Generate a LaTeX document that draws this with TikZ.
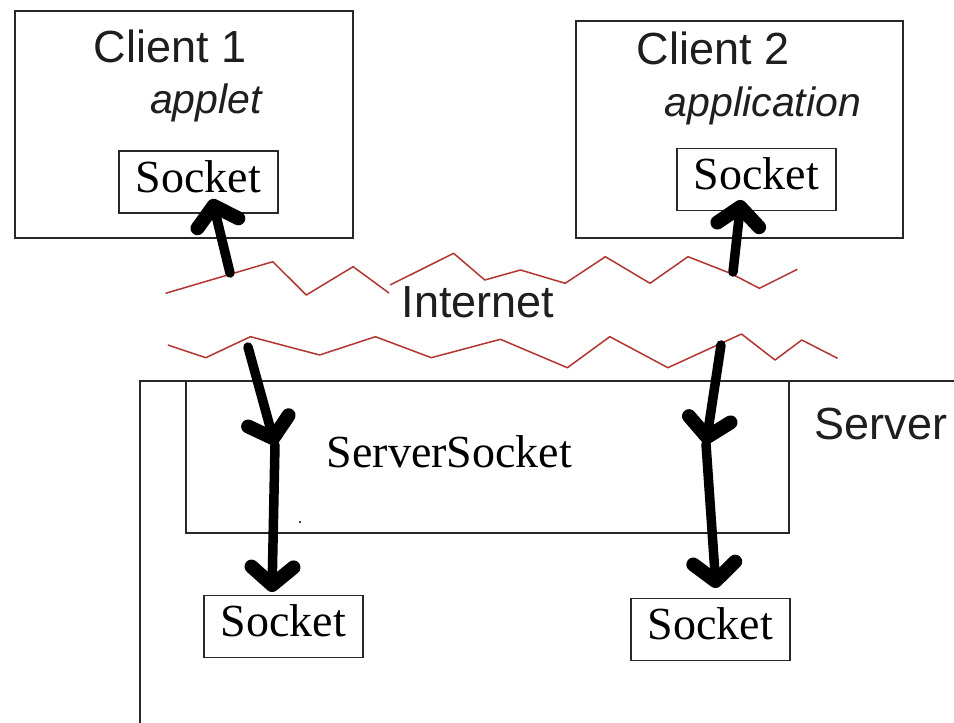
\documentclass[tikz,border=0pt]{standalone}
\usepackage{fontspec}
\setmainfont{Liberation Serif}
\newfontfamily\labelsans{Liberation Sans}
\usetikzlibrary{arrows.meta}

\definecolor{wire}{RGB}{178,54,48}
\definecolor{frame}{RGB}{40,40,40}
\definecolor{labelgray}{RGB}{30,30,30}

\tikzset{
  frameline/.style={draw=frame, line width=1.6pt},
  hostbox/.style={frameline, rectangle, inner sep=0pt},
  sockbox/.style={frameline, rectangle, inner sep=0pt, minimum width=159pt, minimum height=62pt,
                  font=\fontsize{46pt}{46pt}\selectfont, text height=28pt, text depth=8pt},
  sanslabel/.style={anchor=base, inner sep=0pt, text=labelgray, font=\labelsans\fontsize{45pt}{45pt}\selectfont},
  italabel/.style={anchor=base, inner sep=0pt, text=labelgray, font=\labelsans\itshape\fontsize{41pt}{41pt}\selectfont},
  seriflabel/.style={anchor=base, inner sep=0pt, font=\fontsize{46pt}{46pt}\selectfont},
  netline/.style={draw=wire, line width=1.5pt, line join=round},
  flow/.style={line width=9.5pt, line cap=round, line join=round,
               -{Straight Barb[length=18pt, width=42pt, line width'=14pt, line cap=round, line join=round]}},
}

\begin{document}
\begin{tikzpicture}[x=1pt, y=-1pt]
  \useasboundingbox[fill=white] (0,0) rectangle (954,723);

  % client hosts
  \node[hostbox, minimum width=338pt, minimum height=227pt] (c1) at (184,124.5) {};
  \node[hostbox, minimum width=327pt, minimum height=217pt] (c2) at (739.5,129.5) {};
  \node[sanslabel] (c1name) at (170,62) {Client 1};
  \node[italabel]  (c1kind) at (206,113) {applet};
  \node[sanslabel] (c2name) at (713,64) {Client 2};
  \node[italabel]  (c2kind) at (763,116) {application};
  \node[sockbox] (s1) at (198.5,182) {Socket};
  \node[sockbox] (s2) at (756.5,179.5) {Socket};

  % server host: only its top and left edges fall inside the frame
  \draw[frameline] (140,723) -- (140,381) -- (954,381);
  \node[sanslabel] (srvname) at (881,439) {Server};
  \draw[frameline] (186,381) rectangle (789,533);
  \node[seriflabel] (ssname) at (449.5,467) {ServerSocket};
  \fill[black] (300,522) circle (1.2pt);
  \node[sockbox] (s3) at (283.5,626.5) {Socket};
  \node[sockbox] (s4) at (710.5,629.5) {Socket};

  % the internet, bounded by two jagged lines
  \draw[netline] (165.6,293.3) -- (272.8,261.7) -- (306.3,295) -- (353.1,266.7) -- (389,293);
  \draw[netline] (390,285) -- (453.6,253.3) -- (484.8,280) -- (520.5,270) -- (565.2,283.3) -- (605.4,256.7)
    -- (650,283.3) -- (688,256.7) -- (730.4,273.3) -- (759.4,288.3) -- (797.3,269.3);
  \draw[netline] (167.9,345) -- (205.8,357.7) -- (250.4,336.7) -- (319.6,355) -- (375.4,336.7)
    -- (431.3,357.7) -- (500.4,339.3) -- (567.4,367.7) -- (609.8,336.7) -- (667.9,367.7)
    -- (741.5,334) -- (775,360) -- (801.8,340) -- (837.5,358.3);
  \node[sanslabel] (net) at (478,317) {Internet};

  % connection points
  \coordinate (up1)  at (230,273);
  \coordinate (tip1) at (212,199);
  \coordinate (up2)  at (733,272);
  \coordinate (tip2) at (741,200);
  \coordinate (dn1)  at (248,347);
  \coordinate (acc1) at (275,445);
  \coordinate (out1) at (272,592);
  \coordinate (dn2)  at (721,345);
  \coordinate (acc2) at (706,444);
  \coordinate (out2) at (716,588);

  % connections
  \draw[flow] (up1) -- (tip1);
  \draw[flow] (up2) -- (tip2);
  \draw[flow] (dn1) -- (acc1);
  \draw[flow] (acc1) -- (out1);
  \draw[flow] (dn2) -- (acc2);
  \draw[flow] (acc2) -- (out2);
\end{tikzpicture}
\end{document}
